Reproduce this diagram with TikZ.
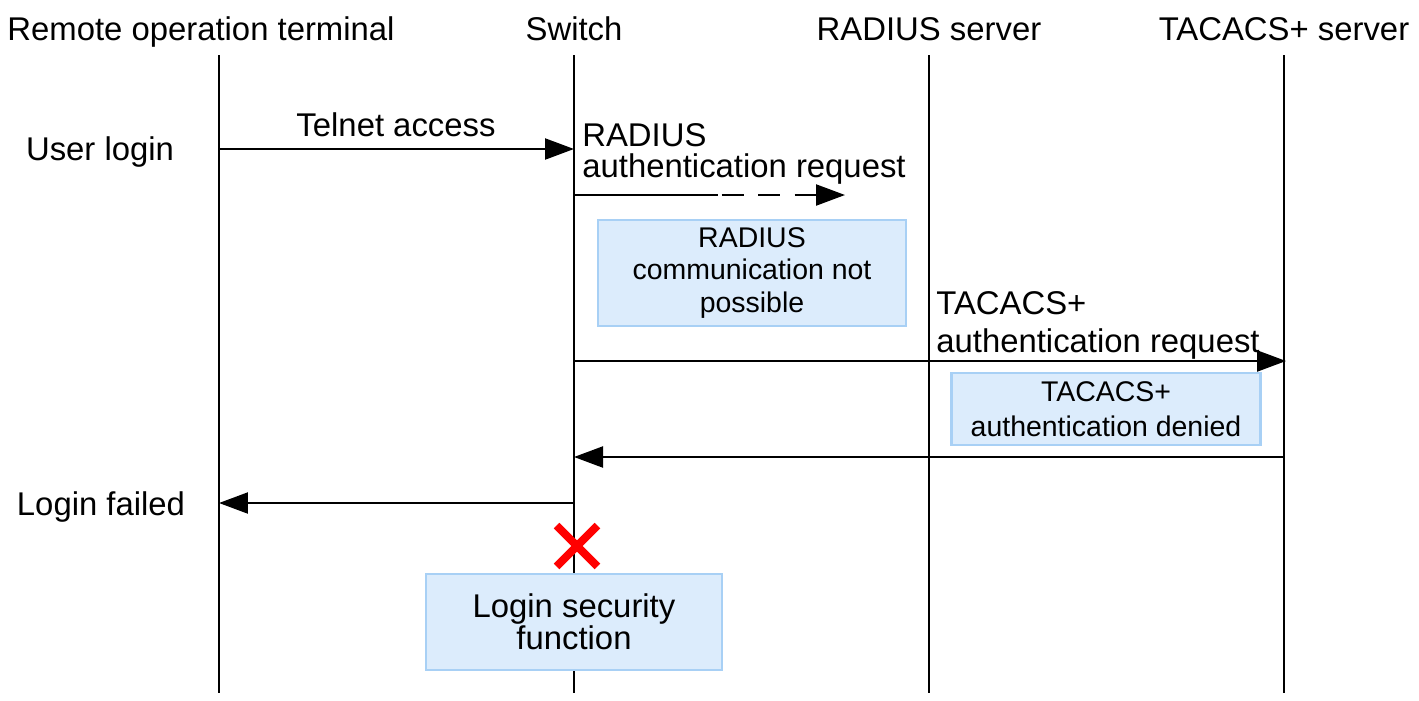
\documentclass[tikz,border=0pt]{standalone}
\usepackage{fontspec}
\setmainfont{Liberation Sans}
\usetikzlibrary{arrows.meta,shapes.misc}

\definecolor{boxfill}{RGB}{220,236,252}
\definecolor{boxline}{RGB}{168,208,245}

\tikzset{
  lbl/.style={inner sep=0pt, anchor=base, font=\fontsize{18.7}{18.1}\selectfont},
  life/.style={line width=1.25pt},
  msg/.style={line width=1.25pt, -{Triangle[length=0.58cm,width=0.42cm]}},
  note/.style={draw=boxline, fill=boxfill, line width=1.25pt, align=center, inner sep=0pt,
    font=\fontsize{16.2}{18.7}\selectfont}
}

\begin{document}
\begin{tikzpicture}[x=0.02cm, y=-0.02cm]
\useasboundingbox (0,0) rectangle (1419,700);

\node (h1) at (201,40) [lbl] {Remote operation terminal};
\node (h2) at (574,40) [lbl] {Switch};
\node (h3) at (929,40) [lbl] {RADIUS server};
\node (h4) at (1284,40) [lbl] {TACACS+ server};

\coordinate (t1) at (219,55);
\coordinate (t2) at (574,55);
\coordinate (t3) at (929,55);
\coordinate (t4) at (1284,55);
\coordinate (e1) at (219,693);
\coordinate (e2) at (574,693);
\coordinate (e3) at (929,693);
\coordinate (e4) at (1284,693);

\draw (t1) to (e1) [life];
\draw (t2) to (e2) [life];
\draw (t3) to (e3) [life];
\draw (t4) to (e4) [life];

\node (n1) at (752,273) [note, minimum width=6.16cm, minimum height=2.12cm] {RADIUS\\communication not\\possible};
\node (n2) at (1106,409) [note, minimum width=6.18cm, minimum height=1.44cm,
  font=\fontsize{16.2}{19.8}\selectfont] {TACACS+\\authentication denied};
\node (n3) at (574,622) [note, minimum width=5.92cm, minimum height=1.92cm,
  font=\fontsize{18.7}{18.1}\selectfont] {Login security\\function};

\coordinate (m1a) at (219,149);
\coordinate (m1b) at (574,149);
\coordinate (m2a) at (574,195);
\coordinate (m2b) at (845,195);
\coordinate (m3a) at (574,361);
\coordinate (m3b) at (1286,361);
\coordinate (m4a) at (1284,457);
\coordinate (m4b) at (574,457);
\coordinate (m5a) at (574,503);
\coordinate (m5b) at (219,503);

\draw (m1a) to (m1b) [msg];
\draw (m2a) to (m2b) [msg, dash pattern=on 82pt off 2pt on 12.5pt off 8.5pt on 12pt off 8.5pt on 12pt off 20pt];
\draw (m3a) to (m3b) [msg];
\draw (m4a) to (m4b) [msg];
\draw (m5a) to (m5b) [msg];

\node (s1) at (100,160) [lbl] {User login};
\node (s2) at (396,136) [lbl] {Telnet access};
\node (s3) at (582,185) [lbl, anchor=south west, align=left] {RADIUS\\authentication request};
\node (s4) at (936,360) [lbl, anchor=south west, align=left,
  font=\fontsize{18.7}{22.1}\selectfont] {TACACS+\\authentication request};
\node (s5) at (101,515) [lbl] {Login failed};

\node (x) at (577,546) [cross out, draw=red, line width=4.5pt, minimum size=0.66cm, inner sep=0pt] {};

\end{tikzpicture}
\end{document}
